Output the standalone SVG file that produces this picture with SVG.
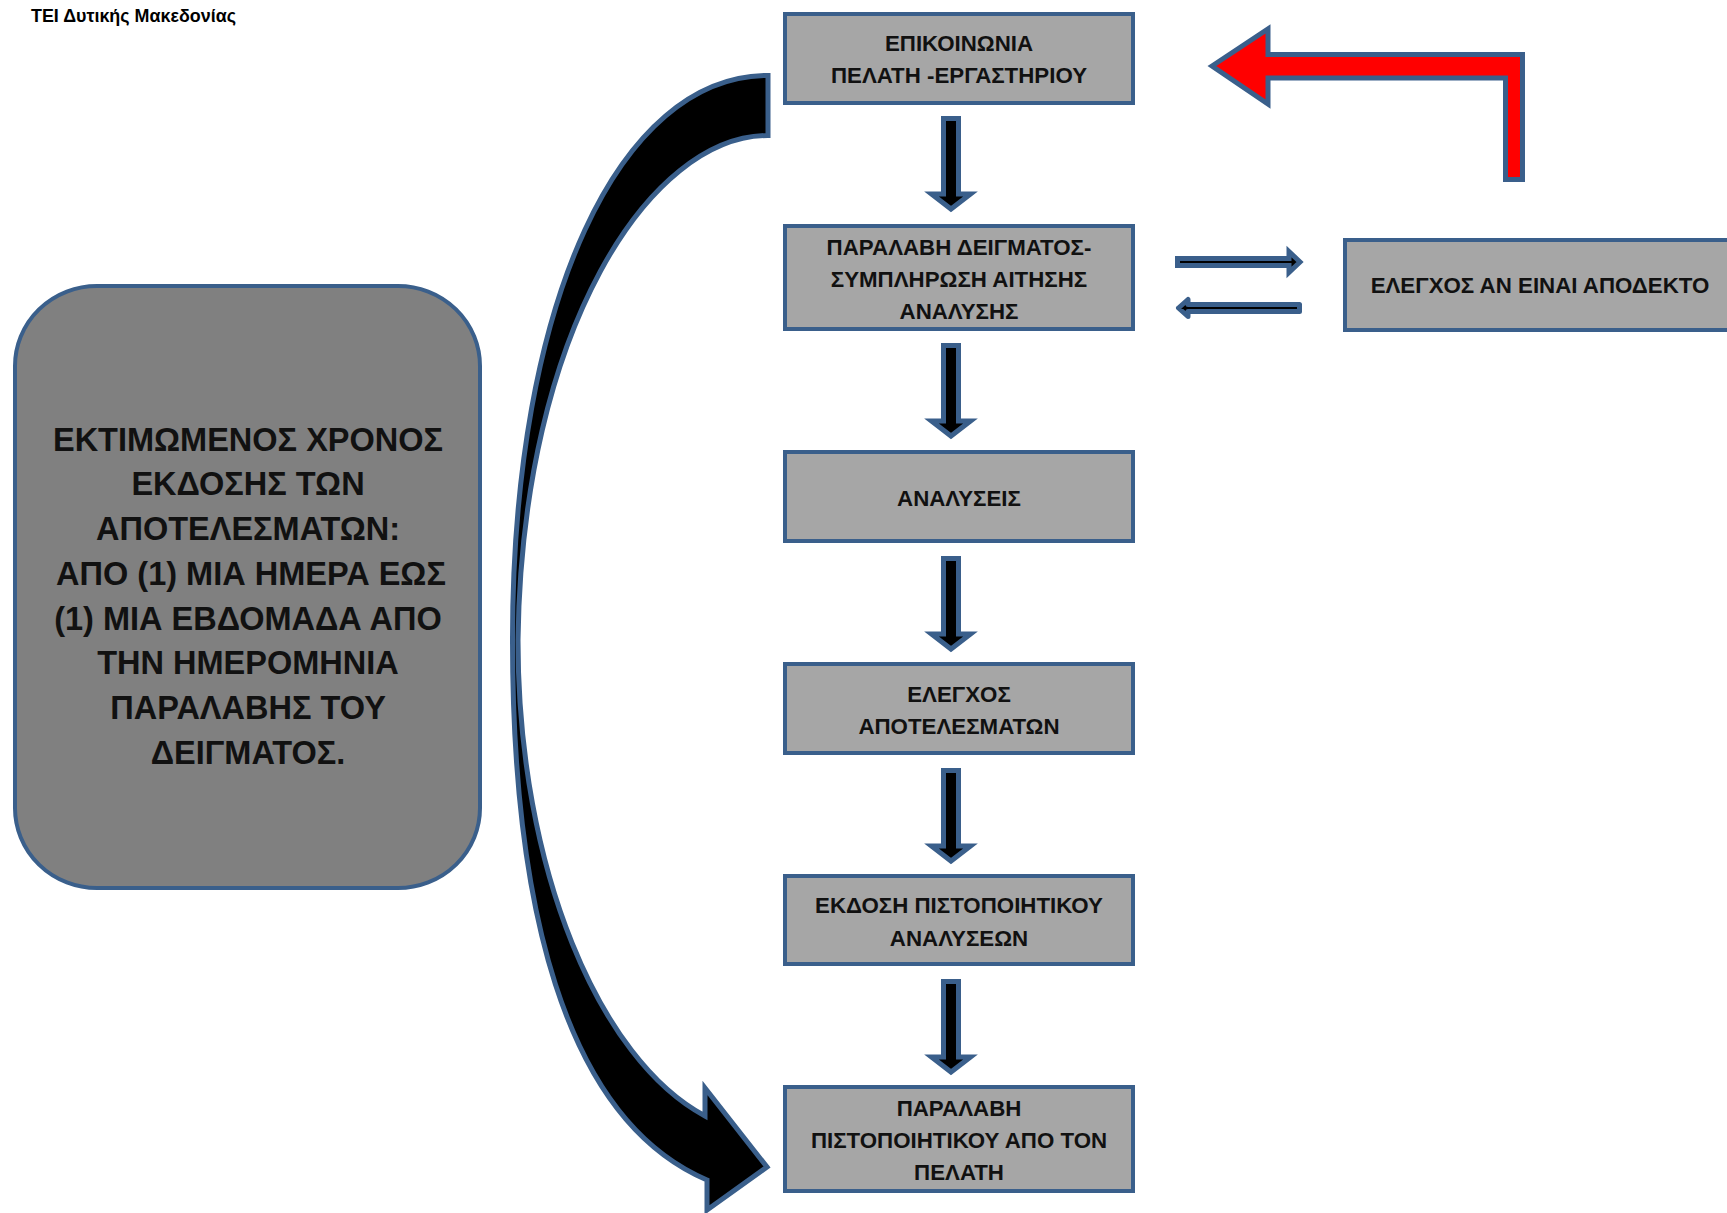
<svg xmlns="http://www.w3.org/2000/svg" xmlns:xlink="http://www.w3.org/1999/xlink" width="1727" height="1213" viewBox="0 0 1727 1213">
<style>
.box{fill:#A6A6A6;stroke:#3A5F8B;stroke-width:4}
.big{fill:#808080;stroke:#3A5F8B;stroke-width:4}
.t{font-family:"Liberation Sans",Arial,sans-serif;font-weight:bold;font-size:22.3px;fill:#111;text-anchor:middle}
.tb{font-family:"Liberation Sans",Arial,sans-serif;font-weight:bold;font-size:32.5px;fill:#111;text-anchor:middle}
.hd{font-family:"Liberation Sans",Arial,sans-serif;font-weight:bold;font-size:18px;fill:#000}
.ar{fill:#000;stroke:#3A5F8B;stroke-width:5;stroke-linejoin:miter}
.red{fill:#FF0000;stroke:#3A5F8B;stroke-width:5;stroke-linejoin:miter}
</style>
<defs>
<path id="down" d="M943.5,118.5 H958.5 V194 H970.5 L951,209 L931.5,194 H943.5 Z"/>
</defs>
<rect width="1727" height="1213" fill="#fff"/>
<text class="hd" x="31" y="22" textLength="205" lengthAdjust="spacingAndGlyphs">ΤΕΙ Δυτικής Μακεδονίας</text>

<g id="connectors">
<use href="#down" xlink:href="#down" class="ar"/>
<use href="#down" xlink:href="#down" class="ar" transform="translate(0,227)"/>
<use href="#down" xlink:href="#down" class="ar" transform="translate(0,440)"/>
<use href="#down" xlink:href="#down" class="ar" transform="translate(0,652)"/>
<use href="#down" xlink:href="#down" class="ar" transform="translate(0,863)"/>
<path class="ar" d="M1177.5,258.5 L1289,258.5 L1289,251.5 L1300,262 L1289,272.5 L1289,265.5 L1177.5,265.5 Z"/>
<path class="ar" style="stroke-linejoin:round" d="M1178.5,308 L1188,299.5 L1188,304.5 L1299.5,304.5 L1299.5,311.5 L1188,311.5 L1188,316.5 Z"/>
<path class="red" d="M1212,66 L1268,29 L1268,54.5 L1522.5,54.5 L1522.5,179.5 L1505.5,179.5 L1505.5,78 L1268,78 L1268,104 Z"/>
<path class="ar" d="M768,75.5 C620,75.5 512.5,300 512.5,640 C512.5,900 562,1118 707,1180 L707,1210 L767,1167 L705,1088 L705,1116 C600,1060 518,870 518,640 C522,330 650,135.5 768,135.5 Z"/>
</g>

<g id="estimate">
<rect class="big" x="15" y="286" width="465" height="602" rx="82" ry="80"/>
<text class="tb" x="248" y="450.7">ΕΚΤΙΜΩΜΕΝΟΣ ΧΡΟΝΟΣ</text>
<text class="tb" x="248" y="495.4">ΕΚΔΟΣΗΣ ΤΩΝ</text>
<text class="tb" x="248" y="540.1">ΑΠΟΤΕΛΕΣΜΑΤΩΝ:</text>
<text class="tb" x="251" y="584.8">ΑΠΟ (1) ΜΙΑ ΗΜΕΡΑ ΕΩΣ</text>
<text class="tb" x="248" y="629.5">(1) ΜΙΑ ΕΒΔΟΜΑΔΑ ΑΠΟ</text>
<text class="tb" x="248" y="674.2">ΤΗΝ ΗΜΕΡΟΜΗΝΙΑ</text>
<text class="tb" x="248" y="718.9">ΠΑΡΑΛΑΒΗΣ ΤΟΥ</text>
<text class="tb" x="248" y="763.6">ΔΕΙΓΜΑΤΟΣ.</text>
</g>

<g id="n1">
<rect class="box" x="785" y="14" width="348" height="89"/>
<text class="t" x="959" y="51">ΕΠΙΚΟΙΝΩΝΙΑ</text>
<text class="t" x="959" y="83">ΠΕΛΑΤΗ -ΕΡΓΑΣΤΗΡΙΟΥ</text>
</g>
<g id="n2">
<rect class="box" x="785" y="226" width="348" height="103"/>
<text class="t" x="959" y="255">ΠΑΡΑΛΑΒΗ ΔΕΙΓΜΑΤΟΣ-</text>
<text class="t" x="959" y="287">ΣΥΜΠΛΗΡΩΣΗ ΑΙΤΗΣΗΣ</text>
<text class="t" x="959" y="319">ΑΝΑΛΥΣΗΣ</text>
</g>
<g id="n3">
<rect class="box" x="785" y="452" width="348" height="89"/>
<text class="t" x="959" y="506">ΑΝΑΛΥΣΕΙΣ</text>
</g>
<g id="n4">
<rect class="box" x="785" y="664" width="348" height="89"/>
<text class="t" x="959" y="702">ΕΛΕΓΧΟΣ</text>
<text class="t" x="959" y="734">ΑΠΟΤΕΛΕΣΜΑΤΩΝ</text>
</g>
<g id="n5">
<rect class="box" x="785" y="876" width="348" height="88"/>
<text class="t" x="959" y="913">ΕΚΔΟΣΗ ΠΙΣΤΟΠΟΙΗΤΙΚΟΥ</text>
<text class="t" x="959" y="946">ΑΝΑΛΥΣΕΩΝ</text>
</g>
<g id="n6">
<rect class="box" x="785" y="1087" width="348" height="104"/>
<text class="t" x="959" y="1116">ΠΑΡΑΛΑΒΗ</text>
<text class="t" x="959" y="1148">ΠΙΣΤΟΠΟΙΗΤΙΚΟΥ ΑΠΟ ΤΟΝ</text>
<text class="t" x="959" y="1180">ΠΕΛΑΤΗ</text>
</g>
<g id="n7">
<rect class="box" x="1345" y="240" width="400" height="90"/>
<text class="t" x="1540" y="293">ΕΛΕΓΧΟΣ ΑΝ ΕΙΝΑΙ ΑΠΟΔΕΚΤΟ</text>
</g>
</svg>
